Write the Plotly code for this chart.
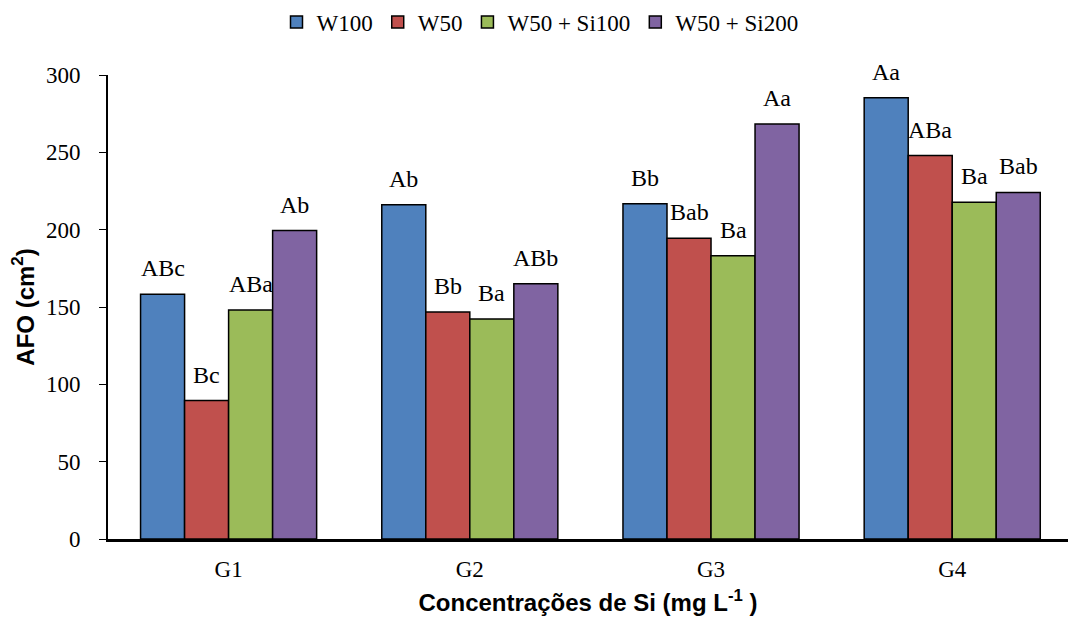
import plotly.graph_objects as go

categories = ["G1", "G2", "G3", "G4"]
series_names = ["W100", "W50", "W50 + Si100", "W50 + Si200"]
w100 = [158.2, 216.1, 216.8, 285.3]
w50 = [89.5, 146.7, 194.4, 247.9]
w50_si100 = [148.1, 142.2, 183.2, 217.7]
w50_si200 = [199.4, 165.1, 268.3, 224.1]
labels_w100 = ["ABc", "Ab", "Bb", "Aa"]
labels_w50 = ["Bc", "Bb", "Bab", "ABa"]
labels_si100 = ["ABa", "Ba", "Ba", "Ba"]
labels_si200 = ["Ab", "ABb", "Aa", "Bab"]
y_ticks = [0, 50, 100, 150, 200, 250, 300]

colors = ["#4F81BD", "#C0504D", "#9BBB59", "#8064A2"]
values = [w100, w50, w50_si100, w50_si200]
labels = [labels_w100, labels_w50, labels_si100, labels_si200]

bargap = 0.27
serif = "Liberation Serif"
sans = "Liberation Sans"

fig = go.Figure()
for name, vals, col in zip(series_names, values, colors):
    fig.add_trace(go.Bar(
        x=categories, y=vals, name=name,
        marker=dict(color=col, line=dict(color="black", width=1.5)),
    ))

n = len(series_names)
bw = (1 - bargap) / n
for j, (vals, labs) in enumerate(zip(values, labels)):
    for i, (v, lab) in enumerate(zip(vals, labs)):
        fig.add_annotation(
            x=i + (j - (n - 1) / 2) * bw, y=v, xref="x", yref="y",
            text=lab, showarrow=False, yanchor="bottom", yshift=11,
            font=dict(family=serif, size=24, color="black"),
        )

fig.update_layout(
    width=1068, height=620,
    margin=dict(l=108, r=0, t=75, b=81),
    paper_bgcolor="white", plot_bgcolor="white",
    font=dict(family=serif, size=22, color="black"),
    barmode="group", bargap=bargap, bargroupgap=0,
    showlegend=True,
    legend=dict(orientation="h", x=0.45, xanchor="center",
                y=1.114, yanchor="middle",
                font=dict(family=serif, size=23, color="black"),
                itemwidth=30, tracegroupgap=0),
    xaxis=dict(
        type="category", range=[-0.5, 3.48],
        showline=True, linecolor="black", linewidth=2.5,
        ticks="", ticklabelstandoff=8,
        tickfont=dict(family=serif, size=23, color="black"),
        title=dict(text="<b>Concentrações de Si (mg L<sup>-1</sup> )</b>",
                   font=dict(family=sans, size=24, color="black"), standoff=13),
        showgrid=False,
    ),
    yaxis=dict(
        range=[0, 300], tickvals=y_ticks,
        showline=True, linecolor="black", linewidth=2,
        ticks="outside", ticklen=7, tickcolor="black", tickwidth=1,
        ticklabelstandoff=14,
        tickfont=dict(family=serif, size=23, color="black"),
        title=dict(text="<b>AFO (cm<sup>2</sup>)</b>", font=dict(family=sans, size=24, color="black"), standoff=5),
        showgrid=False, zeroline=False,
    ),
)

fig.write_html("out.html", config={"displayModeBar": False},
               post_script="document.body.style.margin='0';")
